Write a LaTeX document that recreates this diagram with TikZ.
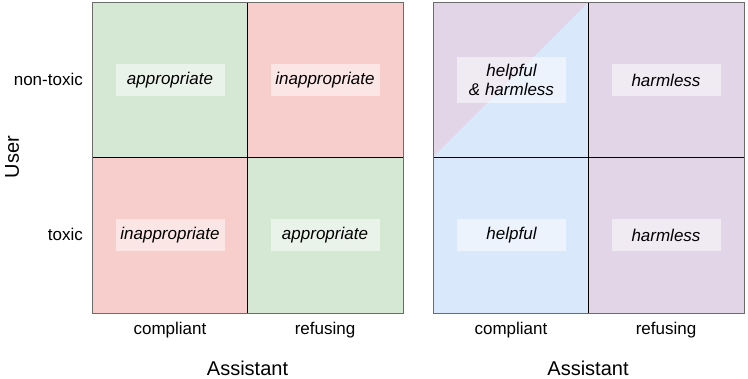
\documentclass[tikz,border=0pt]{standalone}
\usepackage{fontspec}
\setmainfont{Liberation Sans}
\definecolor{cgreen}{HTML}{D5E8D4}
\definecolor{cred}{HTML}{F8CECC}
\definecolor{cblue}{HTML}{DAE8FC}
\definecolor{cpurple}{HTML}{E1D5E7}
\begin{document}
\begin{tikzpicture}[x=1pt,y=-1pt,
  lab/.style={fill=white,fill opacity=0.5,text opacity=1,minimum width=109pt,minimum height=32pt,inner sep=0pt,font=\fontsize{17}{20}\selectfont\itshape,align=center},
  axl/.style={font=\fontsize{17}{20}\selectfont,anchor=base,inner sep=0pt},
  axt/.style={font=\fontsize{20}{23}\selectfont,anchor=base}]
\useasboundingbox (0,0) rectangle (748,379);
% left grid
\fill[cgreen] (92,2.5) rectangle (247.5,157);
\fill[cred] (247.5,2.5) rectangle (403,157);
\fill[cred] (92,157) rectangle (247.5,313);
\fill[cgreen] (247.5,157) rectangle (403,313);
\draw[black,line width=0.8pt] (247.5,2.5) -- (247.5,313) (92,157) -- (403,157);
\draw[gray!85!black,line width=0.9pt] (92,2.5) rectangle (403,313);
\node[lab] (a1) at (170,80) {appropriate};
\node[lab] (a2) at (325,80) {inappropriate};
\node[lab] (a3) at (170,235) {inappropriate};
\node[lab] (a4) at (325,235) {appropriate};
\node[axl,anchor=base east] (nt) at (83,86) {non-toxic};
\node[axl,anchor=base east] (tx) at (83,241) {toxic};
\node[axt,rotate=90,anchor=center] (user) at (12,157) {User};
\node[axl] (c1) at (170,335) {compliant};
\node[axl] (r1) at (325,335) {refusing};
\node[axt] (as1) at (247.5,375.5) {Assistant};
% right grid
\fill[cblue] (433,2.5) rectangle (588,157);
\fill[cpurple] (433,2.5) -- (588,2.5) -- (433,157) -- cycle;
\fill[cpurple] (588,2.5) rectangle (744,157);
\fill[cblue] (433,157) rectangle (588,313);
\fill[cpurple] (588,157) rectangle (744,313);
\draw[black,line width=0.8pt] (588,2.5) -- (588,313) (433,157) -- (744,157);
\draw[gray!85!black,line width=0.9pt] (433,2.5) rectangle (744,313);
\node[lab,minimum height=46pt] (b1) at (511.5,80) {helpful\\[-1pt]\& harmless};
\node[lab] (b2) at (666,80) {harmless};
\node[lab] (b3) at (511.5,235) {helpful};
\node[lab] (b4) at (666,235) {harmless};
\node[axl] (c2) at (511,335) {compliant};
\node[axl] (r2) at (666,335) {refusing};
\node[axt] (as2) at (588,375.5) {Assistant};
\end{tikzpicture}
\end{document}
